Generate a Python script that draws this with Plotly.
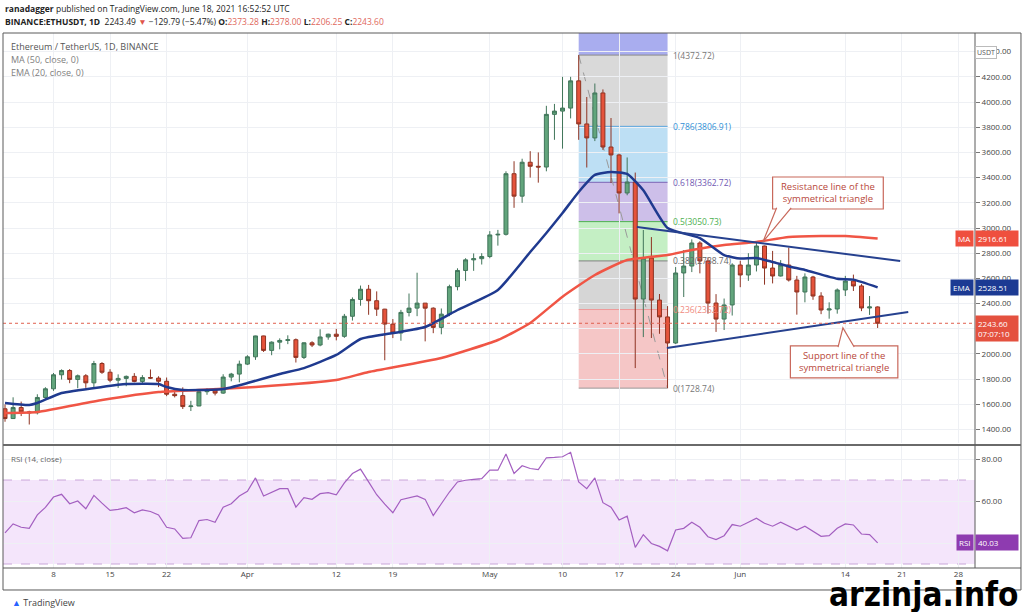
import numpy as np
import pandas as pd
import plotly.graph_objects as go
from plotly.subplots import make_subplots

# ETH/USDT daily candles, 2021-03-02 .. 2021-06-18
dates = pd.date_range("2021-03-02", "2021-06-18", freq="D")

opens = [1564.7, 1487.2, 1574.7, 1540.6, 1533.3, 1654.7, 1723.4, 1834.7, 1868.5, 1797.9,
         1826.9, 1770.9, 1924.2, 1855.0, 1791.9, 1806.0, 1822.0, 1782.0, 1812.7, 1808.4,
         1783.4, 1680.3, 1669.2, 1582.3, 1587.1, 1700.4, 1715.8, 1689.2, 1816.6, 1840.3,
         1919.4, 1977.3, 2143.2, 2028.4, 2093.8, 2107.4, 2113.1, 1972.9, 2088.6, 2071.0,
         2134.9, 2157.0, 2139.9, 2299.2, 2432.6, 2514.0, 2422.7, 2355.8, 2237.1, 2166.2,
         2330.0, 2364.0, 2403.5, 2363.6, 2211.0, 2316.1, 2534.5, 2662.9, 2747.0, 2756.3,
         2773.4, 2945.0, 2950.0, 3431.0, 3253.0, 3522.0, 3490.0, 3484.0, 3902.0, 3928.0,
         3952.0, 4168.0, 3826.0, 3715.0, 4072.0, 3643.0, 3580.0, 3278.0, 3365.0, 2436.0,
         2762.0, 2428.0, 2294.0, 2087.0, 2643.0, 2698.0, 2881.0, 2738.0, 2404.0, 2277.0,
         2389.0, 2706.0, 2627.0, 2706.0, 2857.0, 2682.0, 2619.0, 2706.0, 2587.0, 2492.0,
         2611.0, 2460.0, 2349.0, 2357.0, 2508.0, 2579.0, 2540.0, 2365.0, 2373.28]
highs = [1600, 1656, 1622, 1549, 1680, 1736, 1849, 1878, 1880, 1837,
         1840, 1945, 1935, 1879, 1838, 1829, 1848, 1832, 1877, 1823,
         1813, 1726, 1735, 1628, 1709, 1728, 1730, 1839, 1850, 1947,
         1990, 2145, 2145, 2100, 2124, 2148, 2123, 2092, 2101, 2196,
         2161, 2199, 2318, 2449, 2543, 2548, 2497, 2358, 2277, 2350,
         2480, 2645, 2404, 2370, 2361, 2550, 2680, 2760, 2798, 2800,
         2975, 2985, 3450, 3530, 3550, 3610, 3600, 3970, 3985, 4200,
         4200, 4372.72, 4040, 4147, 4100, 3873, 3590, 3560, 3440, 2984,
         2928, 2476, 2380, 2690, 2825, 2910, 2895, 2765, 2475, 2440,
         2720, 2740, 2800, 2890, 2860, 2818, 2745, 2845, 2620, 2640,
         2620, 2490, 2410, 2520, 2620, 2630, 2555, 2460, 2378.0]
lows = [1462, 1484, 1507, 1440, 1520, 1637, 1707, 1797, 1768, 1728,
        1731, 1730, 1842, 1775, 1731, 1744, 1775, 1764, 1801, 1737,
        1665, 1655, 1563, 1547, 1586, 1676, 1671, 1683, 1783, 1775,
        1912, 1953, 2016, 1990, 2037, 2078, 1932, 1960, 2055, 2061,
        2113, 2108, 2128, 2265, 2383, 2311, 2302, 1950, 2126, 2105,
        2298, 2300, 2100, 2165, 2156, 2300, 2505, 2580, 2660, 2710,
        2760, 2860, 2940, 3160, 3200, 3400, 3360, 3450, 3700, 3630,
        3870, 3700, 3480, 3690, 3620, 3357, 3116, 3260, 1888, 2134,
        2127, 2160, 1728.74, 2080, 2452, 2650, 2640, 2320, 2175, 2190,
        2305, 2530, 2580, 2655, 2550, 2560, 2615, 2575, 2312, 2410,
        2430, 2316, 2280, 2320, 2460, 2500, 2340, 2310, 2206.25]
closes = [1487.2, 1574.7, 1540.6, 1533.3, 1654.7, 1723.4, 1834.7, 1868.5, 1797.9, 1826.9,
          1770.9, 1924.2, 1855.0, 1791.9, 1806.0, 1822.0, 1782.0, 1812.7, 1808.4, 1783.4,
          1680.3, 1669.2, 1582.3, 1587.1, 1700.4, 1715.8, 1689.2, 1816.6, 1840.3, 1919.4,
          1977.3, 2143.2, 2028.4, 2093.8, 2107.4, 2113.1, 1972.9, 2088.6, 2071.0, 2134.9,
          2157.0, 2139.9, 2299.2, 2432.6, 2514.0, 2422.7, 2355.8, 2237.1, 2166.2, 2330.0,
          2364.0, 2403.5, 2363.6, 2211.0, 2316.1, 2534.5, 2662.9, 2747.0, 2756.3, 2773.4,
          2945.0, 2950.0, 3431.0, 3253.0, 3522.0, 3490.0, 3484.0, 3902.0, 3928.0, 3952.0,
          4168.0, 3826.0, 3715.0, 4072.0, 3643.0, 3580.0, 3278.0, 3365.0, 2436.0, 2762.0,
          2428.0, 2294.0, 2087.0, 2643.0, 2698.0, 2881.0, 2738.0, 2404.0, 2277.0, 2389.0,
          2706.0, 2627.0, 2706.0, 2857.0, 2682.0, 2619.0, 2706.0, 2587.0, 2492.0, 2611.0,
          2460.0, 2349.0, 2357.0, 2508.0, 2579.0, 2540.0, 2365.0, 2373.28, 2243.6]

# EMA 20 and MA 50, read at points along the lines
ema_dates = ["2021-03-02", "2021-03-05", "2021-03-06", "2021-03-09", "2021-03-14", "2021-03-17",
             "2021-03-21", "2021-03-22", "2021-03-24", "2021-03-26", "2021-03-29", "2021-04-01",
             "2021-04-05", "2021-04-08", "2021-04-12", "2021-04-15", "2021-04-19", "2021-04-23",
             "2021-04-27", "2021-05-02", "2021-05-06", "2021-05-08", "2021-05-10", "2021-05-12",
             "2021-05-14", "2021-05-16", "2021-05-18", "2021-05-20", "2021-05-23", "2021-05-27",
             "2021-05-30", "2021-06-01", "2021-06-03", "2021-06-05", "2021-06-07", "2021-06-09",
             "2021-06-13", "2021-06-15", "2021-06-18"]
ema_vals = [1611, 1595, 1611, 1690, 1738, 1761, 1761, 1738, 1714, 1714, 1722, 1769,
            1841, 1888, 1992, 2119, 2166, 2214, 2349, 2508, 2809, 2960, 3119, 3286,
            3421, 3445, 3429, 3300, 3000, 2920, 2785, 2758, 2762, 2730, 2695, 2667,
            2597, 2590, 2528.51]
ma_dates = ["2021-03-02", "2021-03-06", "2021-03-14", "2021-03-21", "2021-03-26", "2021-04-02",
            "2021-04-12", "2021-04-16", "2021-04-25", "2021-05-02", "2021-05-06", "2021-05-10",
            "2021-05-14", "2021-05-18", "2021-05-23", "2021-05-26", "2021-05-30", "2021-06-03",
            "2021-06-07", "2021-06-11", "2021-06-14", "2021-06-18"]
ma_vals = [1531, 1539, 1634, 1698, 1714, 1738, 1793, 1857, 1968, 2111, 2246, 2455,
           2627, 2746, 2786, 2825, 2865, 2889, 2929, 2936, 2936, 2916.61]

# RSI (14, close), one value per candle
rsi = [44.8, 49.1, 47.5, 47.0, 53.4, 57.0, 61.9, 63.2, 58.7, 60.0,
       56.3, 62.7, 59.0, 55.5, 56.0, 56.8, 54.4, 55.8, 55.0, 53.4,
       47.5, 46.7, 42.2, 42.5, 50.7, 51.2, 49.9, 57.1, 58.7, 62.4,
       64.6, 71.0, 62.4, 64.3, 65.9, 65.9, 57.1, 61.6, 60.8, 63.5,
       64.0, 63.0, 68.6, 73.1, 75.2, 69.1, 63.0, 58.5, 54.4, 60.6,
       61.4, 62.4, 60.8, 53.1, 58.7, 64.3, 69.1, 69.9, 70.3, 70.7,
       74.7, 74.7, 82.4, 73.1, 76.8, 75.5, 75.0, 80.6, 80.8, 81.1,
       83.2, 69.1, 65.9, 71.0, 59.2, 57.1, 51.0, 52.8, 37.9, 44.0,
       39.8, 38.4, 36.3, 46.2, 47.0, 49.9, 47.5, 43.0, 41.6, 43.5,
       48.8, 48.0, 49.9, 51.8, 49.4, 48.0, 49.9, 48.0, 46.2, 48.0,
       45.4, 43.2, 43.5, 47.0, 49.1, 48.6, 44.3, 44.0, 40.03]

# Fibonacci retracement (May 12 high -> May 23 low)
fib_dates = ["2021-05-12", "2021-05-23"]
fib_levels = ["0", "0.236", "0.382", "0.5", "0.618", "0.786", "1"]
fib_prices = [1728.74, 2352.72, 2738.74, 3050.73, 3362.72, 3806.91, 4372.72]

# triangle trend lines drawn by the author
resist_dates = ["2021-05-19 05:00", "2021-06-20 19:00"]
resist_prices = [3008, 2738]
support_dates = ["2021-05-22 22:00", "2021-06-21 19:00"]
support_prices = [2047, 2333]

tick_dates = ["2021-03-08", "2021-03-15", "2021-03-22", "2021-04-01", "2021-04-12", "2021-04-19",
              "2021-05-01", "2021-05-10", "2021-05-17", "2021-05-24", "2021-06-01", "2021-06-14",
              "2021-06-21", "2021-06-28"]
tick_text = ["8", "15", "22", "Apr", "12", "19", "May", "10", "17", "24", "Jun", "14", "21", "28"]
price_ticks = list(range(1400, 4401, 200))

last_price = 2243.60
ma_last = 2916.61
ema_last = 2528.51
rsi_last = 40.03

start = dates[0]


def pos(d):
    return (pd.Timestamp(d) - start) / pd.Timedelta(days=1)


xi = np.arange(len(dates))
YMIN, YMAX = 1293, 4548
FONT = "Open Sans, Noto Sans, sans-serif"
NAVY = "#26418f"

fig = make_subplots(rows=2, cols=1, shared_xaxes=True, vertical_spacing=0.005)

fig.add_trace(go.Candlestick(
    x=xi, open=opens, high=highs, low=lows, close=closes,
    increasing=dict(fillcolor="#62a57c", line=dict(color="#40755a", width=1)),
    decreasing=dict(fillcolor="#e5533b", line=dict(color="#8f3322", width=1)),
    whiskerwidth=0, showlegend=False, hoverinfo="skip"), row=1, col=1)

fig.add_trace(go.Scatter(x=[pos(d) for d in ma_dates], y=ma_vals, mode="lines",
                         line=dict(color="#f05545", width=2.5, shape="spline", smoothing=0.5),
                         showlegend=False, hoverinfo="skip"), row=1, col=1)
fig.add_trace(go.Scatter(x=[pos(d) for d in ema_dates], y=ema_vals, mode="lines",
                         line=dict(color="#1f3a8f", width=2.5, shape="spline", smoothing=0.5),
                         showlegend=False, hoverinfo="skip"), row=1, col=1)
fig.add_trace(go.Scatter(x=[pos(d) for d in resist_dates], y=resist_prices, mode="lines",
                         line=dict(color=NAVY, width=2), showlegend=False, hoverinfo="skip"),
              row=1, col=1)
fig.add_trace(go.Scatter(x=[pos(d) for d in support_dates], y=support_prices, mode="lines",
                         line=dict(color=NAVY, width=2), showlegend=False, hoverinfo="skip"),
              row=1, col=1)

fig.add_trace(go.Scatter(x=xi, y=rsi, mode="lines", line=dict(color="#a35fc0", width=1.2),
                         showlegend=False, hoverinfo="skip"), row=2, col=1)

shapes = []
# fib zones
fx0, fx1 = pos(fib_dates[0]), pos(fib_dates[1])
zone_colors = ["#f5c6c6", "#d6d6d6", "#c4efc4", "#cdbfe9", "#bddff4", "#d9d9d9", "#a9adef"]
line_colors = ["#9a9a9a", "#ee9a9a", "#808080", "#4caf50", "#7a62b5", "#5aa5dc", "#8a8a8a"]
label_colors = ["#777777", "#f08a80", "#666666", "#4caf50", "#6f57b2", "#2f8fd6", "#777777"]
bounds = fib_prices + [YMAX]
for i in range(len(fib_prices)):
    shapes.append(dict(type="rect", xref="x", yref="y", x0=fx0, x1=fx1,
                       y0=bounds[i], y1=bounds[i + 1], fillcolor=zone_colors[i],
                       line=dict(width=0), layer="below"))
for i, p in enumerate(fib_prices):
    shapes.append(dict(type="line", xref="x", yref="y", x0=fx0, x1=fx1, y0=p, y1=p,
                       line=dict(color=line_colors[i], width=1), layer="below"))
shapes.append(dict(type="line", xref="x", yref="y", x0=fx0, x1=fx1,
                   y0=fib_prices[-1], y1=fib_prices[0],
                   line=dict(color="#9a9a9a", width=1, dash="dash"), layer="below"))

# last price dotted line
shapes.append(dict(type="line", xref="x domain", yref="y", x0=0, x1=1, y0=last_price, y1=last_price,
                   line=dict(color="#e0604f", width=1, dash="dot")))

# RSI band
shapes.append(dict(type="rect", xref="x2 domain", yref="y2", x0=0, x1=1, y0=30, y1=70,
                   fillcolor="#f4e5fb", line=dict(width=0), layer="below"))
for lv in (30, 70):
    shapes.append(dict(type="line", xref="x2 domain", yref="y2", x0=0, x1=1, y0=lv, y1=lv,
                       line=dict(color="#c9a6d9", width=1, dash="dash"), layer="below"))

# callout boxes
CALL = "#c8685b"


def callout(bx0, bx1, by0, by1, base_a, base_b, base_y, tip_x, tip_y):
    shapes.append(dict(type="rect", xref="x", yref="y", x0=bx0, x1=bx1, y0=by0, y1=by1,
                       fillcolor="white", line=dict(color=CALL, width=1.2), layer="above"))
    shapes.append(dict(type="path", xref="x", yref="y",
                       path=f"M {base_a},{base_y} L {tip_x},{tip_y} L {base_b},{base_y}",
                       fillcolor="white", line=dict(color=CALL, width=1.2), layer="above"))


callout(95.0, 108.7, 3151, 3405, 95.5, 97.3, 3160, 93.8, 2889)
callout(97.2, 110.5, 1810, 2064, 103.1, 105.1, 2055, 103.7, 2207)

# chart frame (paper coordinates: plot area spans px 3..975 x 33..568)
XR = 1.0473
YB = -0.0411
frame = dict(color="#5a5a5a", width=1)
shapes += [
    dict(type="rect", xref="paper", yref="paper", x0=0, x1=XR, y0=YB, y1=1, line=frame),
    dict(type="line", xref="paper", yref="paper", x0=0, x1=XR, y0=0.2299, y1=0.2299,
         line=dict(color="#6a6a6a", width=2)),
    dict(type="line", xref="paper", yref="paper", x0=0, x1=XR, y0=0, y1=0, line=frame),
    dict(type="line", xref="paper", yref="paper", x0=1, x1=1, y0=0, y1=1, line=frame),
]

ann = []


def text(x, y, s, size=9, color="#333", xanchor="left", xref="paper", yref="paper", **kw):
    ann.append(dict(x=x, y=y, xref=xref, yref=yref, text=s, showarrow=False, xanchor=xanchor,
                    yanchor=kw.pop("yanchor", "middle"),
                    font=dict(family=kw.pop("family", FONT), size=size, color=color), **kw))


# header
text(0, 1.0449, "<b>ranadagger</b> published on TradingView.com, June 18, 2021 16:52:52 UTC",
     size=8.5, color="#222")
vr = "#e0675c"
text(0, 1.0206,
     "<b>BINANCE:ETHUSDT, 1D</b>  2243.49 <span style='color:#e0554a'>▼</span> −129.79 (−5.47%) "
     f"<b>O:</b><span style='color:{vr}'>2373.28</span> <b>H:</b><span style='color:{vr}'>2378.00</span> "
     f"<b>L:</b><span style='color:{vr}'>2206.25</span> <b>C:</b><span style='color:{vr}'>2243.60</span>",
     size=8.5, color="#222")

# pane legends
text(0.006, 0.9757, "Ethereum / TetherUS, 1D, BINANCE", size=9, color="#555")
text(0.006, 0.9514, "MA (50, close, 0)", size=9, color="#808080")
text(0.006, 0.9270, "EMA (20, close, 0)", size=9, color="#808080")
text(0.006, 0.2056, "RSI (14, close)", size=8, color="#666")

# fib labels
for i, p in enumerate(fib_prices):
    text(fx1 + 0.4, p, f"{fib_levels[i]}({p:.2f})", size=8.5, color=label_colors[i],
         xref="x", yref="y")

# callout texts
text(101.85, 3278, "Resistance line of the<br>symmetrical triangle", size=9.5, color="#b8473a",
     xanchor="center", xref="x", yref="y")
text(103.85, 1937, "Support line of the<br>symmetrical triangle", size=9.5, color="#b8473a",
     xanchor="center", xref="x", yref="y")


# right axis value tags
def tag(y, yref, value, color, name=None, extra=None, yanchor="middle", yshift=0):
    ann.append(dict(x=1, y=y, xref="paper", yref=yref, text=value if extra is None else value + "<br>" + extra,
                    showarrow=False, xanchor="left", yanchor=yanchor, yshift=yshift, align="left",
                    bgcolor=color, borderpad=2, width=38,
                    font=dict(family=FONT, size=8, color="white")))
    if name:
        ann.append(dict(x=1, y=y, xref="paper", yref=yref, text=name, showarrow=False,
                        xanchor="right", yanchor="middle", xshift=-1, bgcolor=color, borderpad=2,
                        font=dict(family=FONT, size=8, color="white")))


tag(ma_last, "y", f"{ma_last:.2f}", "#ef4f3e", "MA")
tag(ema_last, "y", f"{ema_last:.2f}", "#1c3a93", "EMA")
tag(last_price, "y", f"{last_price:.2f}", "#e4513f", extra="07:07:10", yanchor="top", yshift=8)
tag(rsi_last, "y2", f"{rsi_last:.2f}", "#8e3bb0", "RSI")

ann.append(dict(x=1.0226, y=0.9757, xref="paper", yref="paper", text="USDT", showarrow=False,
                bgcolor="white", bordercolor="#bbbbbb", borderwidth=1, borderpad=1,
                font=dict(family=FONT, size=7, color="#555")))

# footer
text(0.0072, -0.0654, "<span style='color:#2962ff'>▲</span> TradingView", size=9, color="#444")
text(1.0463, -0.0495, "<b>arzinja.info</b>", size=33, color="#000", xanchor="right",
     family="Liberation Sans Narrow, Arial Narrow, DejaVu Sans Condensed, sans-serif")

axis_font = dict(family=FONT, size=8, color="#444")
grid = "#eef0f4"

fig.update_layout(
    width=1024, height=612,
    margin=dict(l=3, r=49, t=33, b=44),
    paper_bgcolor="white", plot_bgcolor="white",
    hovermode=False, showlegend=False,
    shapes=shapes, annotations=ann,
    font=dict(family=FONT),
)

xr = [-0.25, 120.05]
tick_pos = [pos(d) for d in tick_dates]
fig.update_xaxes(range=xr, tickvals=tick_pos, ticktext=tick_text, showgrid=True, gridcolor=grid,
                 zeroline=False, showline=False, rangeslider_visible=False, tickfont=axis_font,
                 ticks="", fixedrange=True)
fig.update_xaxes(showticklabels=False, row=1, col=1)
fig.update_xaxes(showticklabels=True, row=2, col=1)

fig.update_yaxes(domain=[0.2336, 1], range=[YMIN, YMAX], side="right", tickvals=price_ticks,
                 ticktext=[f"{v:.2f}" for v in price_ticks], showgrid=True, gridcolor=grid,
                 zeroline=False, ticks="outside", ticklen=4, tickcolor="#777", tickfont=axis_font,
                 row=1, col=1)
fig.update_yaxes(domain=[0, 0.228], range=[28.1, 86.2], side="right", tickvals=[40, 60, 80],
                 ticktext=["", "60.00", "80.00"], showgrid=True, gridcolor=grid, zeroline=False,
                 ticks="outside", ticklen=4, tickcolor="#777", tickfont=axis_font, row=2, col=1)

fig.write_html("out.html", config={"displayModeBar": False},
               post_script="document.body.style.margin='0';")
